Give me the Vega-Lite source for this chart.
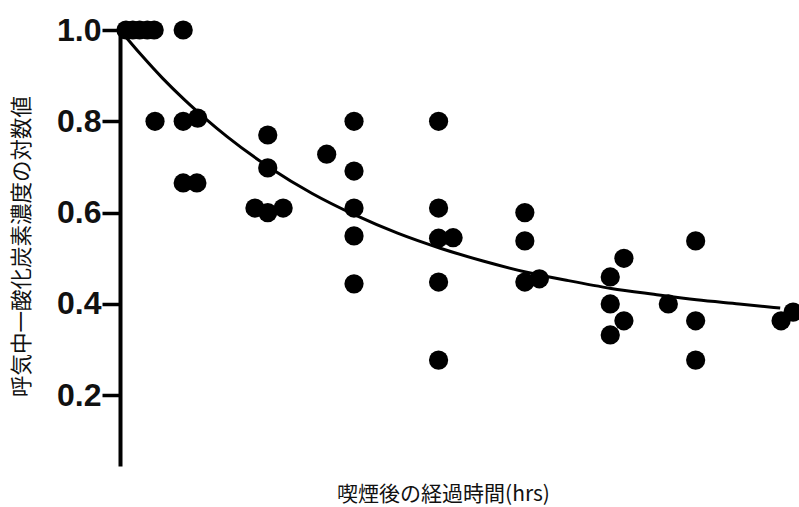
{
  "$schema": "https://vega.github.io/schema/vega-lite/v6.json",
  "width": 679,
  "height": 436,
  "autosize": {"type": "none"},
  "padding": {"left": 120, "top": 30, "right": 0, "bottom": 41},
  "background": "white",
  "config": {"view": {"stroke": null}},
  "datasets": {
    "points": [
      {"t": 0.32, "v": 1.0}, {"t": 0.40, "v": 1.0}, {"t": 0.48, "v": 1.0}, {"t": 0.57, "v": 1.0}, {"t": 0.65, "v": 1.0},
      {"t": 0.66, "v": 0.80},
      {"t": 0.99, "v": 1.0}, {"t": 0.99, "v": 0.80}, {"t": 0.99, "v": 0.665},
      {"t": 1.16, "v": 0.807}, {"t": 1.15, "v": 0.665},
      {"t": 1.83, "v": 0.61},
      {"t": 1.98, "v": 0.77}, {"t": 1.98, "v": 0.698}, {"t": 1.98, "v": 0.60},
      {"t": 2.16, "v": 0.61},
      {"t": 2.67, "v": 0.728},
      {"t": 2.99, "v": 0.80}, {"t": 2.99, "v": 0.691}, {"t": 2.99, "v": 0.61}, {"t": 2.99, "v": 0.549}, {"t": 2.99, "v": 0.444},
      {"t": 3.98, "v": 0.80}, {"t": 3.98, "v": 0.61}, {"t": 3.98, "v": 0.544}, {"t": 3.98, "v": 0.448}, {"t": 3.98, "v": 0.277},
      {"t": 4.15, "v": 0.545},
      {"t": 4.99, "v": 0.60}, {"t": 4.99, "v": 0.538}, {"t": 4.99, "v": 0.448},
      {"t": 5.16, "v": 0.455},
      {"t": 5.99, "v": 0.459}, {"t": 5.99, "v": 0.40}, {"t": 5.99, "v": 0.332},
      {"t": 6.15, "v": 0.50}, {"t": 6.15, "v": 0.363},
      {"t": 6.67, "v": 0.40},
      {"t": 6.99, "v": 0.538}, {"t": 6.99, "v": 0.363}, {"t": 6.99, "v": 0.277},
      {"t": 7.99, "v": 0.363},
      {"t": 8.13, "v": 0.382}
    ],
    "curve": [
      {"t": 0.25, "v": 1.0}, {"t": 0.5, "v": 0.945}, {"t": 0.75, "v": 0.894}, {"t": 1.0, "v": 0.848},
      {"t": 1.25, "v": 0.806}, {"t": 1.5, "v": 0.767}, {"t": 2.0, "v": 0.699}, {"t": 2.5, "v": 0.642},
      {"t": 3.0, "v": 0.595}, {"t": 3.5, "v": 0.555}, {"t": 4.0, "v": 0.522}, {"t": 4.5, "v": 0.494},
      {"t": 5.0, "v": 0.470}, {"t": 5.5, "v": 0.451}, {"t": 6.0, "v": 0.434}, {"t": 6.5, "v": 0.421},
      {"t": 7.0, "v": 0.409}, {"t": 7.5, "v": 0.400}, {"t": 7.98, "v": 0.391}
    ]
  },
  "encoding": {
    "x": {
      "field": "t", "type": "quantitative",
      "scale": {"domain": [0.25, 8.2], "nice": false, "zero": false},
      "axis": {
        "title": "喫煙後の経過時間(hrs)",
        "domain": false, "ticks": false, "labels": false, "grid": false,
        "titleFont": "Noto Sans CJK JP", "titleFontSize": 21, "titleFontWeight": "normal",
        "titleColor": "#111", "titleX": 323, "titleY": 28, "titleBaseline": "middle", "titleAlign": "center"
      }
    },
    "y": {
      "field": "v", "type": "quantitative",
      "scale": {"domain": [0.045, 1.0], "nice": false, "zero": false},
      "axis": {
        "title": "呼気中一酸化炭素濃度の対数値",
        "values": [0.2, 0.4, 0.6, 0.8, 1.0], "format": ".1f", "grid": false,
        "domainColor": "black", "domainWidth": 4,
        "tickColor": "black", "tickWidth": 3.5, "tickSize": 18,
        "labelFont": "Liberation Sans", "labelFontSize": 32, "labelFontWeight": "bold",
        "labelColor": "#111", "labelPadding": 1,
        "titleFont": "Noto Sans CJK JP", "titleFontSize": 21.5, "titleFontWeight": "normal",
        "titleColor": "#111", "titleX": -98, "titleY": 216, "titleBaseline": "middle", "titleAlign": "center", "titleAngle": -90
      }
    }
  },
  "layer": [
    {
      "data": {"name": "curve"},
      "mark": {"type": "line", "color": "black", "strokeWidth": 3, "interpolate": "monotone"}
    },
    {
      "data": {"name": "points"},
      "mark": {"type": "circle", "color": "black", "opacity": 1, "size": 370}
    }
  ]
}
